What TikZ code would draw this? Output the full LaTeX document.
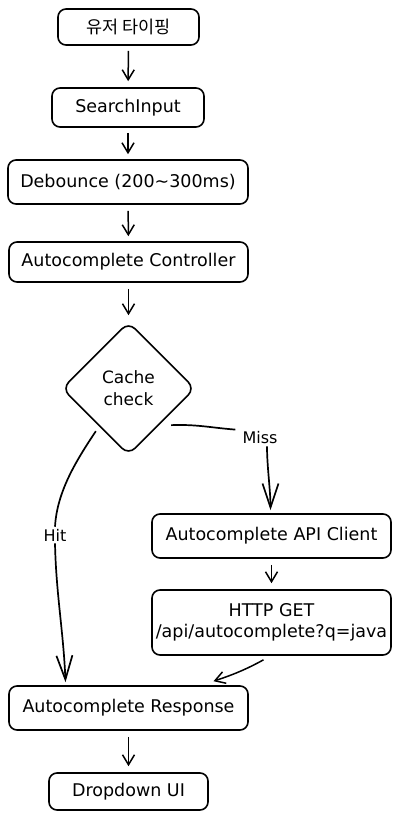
\documentclass[tikz,border=0pt]{standalone}
\usepackage{fontspec}
\setmainfont{DejaVu Sans}
\newfontfamily\krfont{Noto Sans CJK KR}
\usetikzlibrary{shapes.geometric,arrows.meta}
\begin{document}
\begin{tikzpicture}[x=1pt,y=-1pt,
  box/.style={draw, line width=1.6pt, rounded corners=8pt, inner sep=0pt, align=center,
    font=\fontsize{17.5}{21}\selectfont},
  decision/.style={draw, line width=1.6pt, diamond, rounded corners=9pt, inner sep=0pt,
    minimum width=133pt, minimum height=133pt, align=center, font=\fontsize{17}{22}\selectfont},
  lbl/.style={fill=white, inner sep=2pt, font=\fontsize{16}{20}\selectfont},
  arr/.style={line width=1.5pt, -{Straight Barb[length=10pt,width=12pt,line width=1.5pt]}},
  bigarr/.style={line width=1.7pt, -{Straight Barb[length=24pt,width=16pt,line width=1.7pt]}},
  plain/.style={line width=1.7pt}
]
\useasboundingbox (0,0) rectangle (400,819);

\node[box, minimum width=141pt, minimum height=36pt] (kr) at (128.5,27) {\krfont 유저 타이핑};
\node[box, minimum width=152pt, minimum height=39pt] (si) at (128,107.5) {SearchInput};
\node[box, minimum width=240pt, minimum height=44pt] (deb) at (128,182) {Debounce (200\textasciitilde300ms)};
\node[box, minimum width=239pt, minimum height=40pt] (ctl) at (128.5,262) {Autocomplete Controller};
\node[decision] (cache) at (128.5,388.5) {Cache\\check};
\node[box, minimum width=239pt, minimum height=44pt] (api) at (271.5,536) {Autocomplete API Client};
\node[box, minimum width=239pt, minimum height=65pt] (http) at (271.5,622.5) {HTTP GET\\/api/autocomplete?q=java};
\node[box, minimum width=239pt, minimum height=44pt] (resp) at (128.5,708) {Autocomplete Response};
\node[box, minimum width=159pt, minimum height=37pt] (dd) at (128.5,791.5) {Dropdown UI};

\node[lbl] (hit) at (55,535) {Hit};
\node[lbl] (miss) at (260,438) {Miss};

\draw[arr, shorten <=5pt, shorten >=6pt] (kr) -- (si);
\draw[arr, shorten <=5pt, shorten >=5pt] (si) -- (deb);
\draw[arr, shorten <=6pt, shorten >=5pt] (deb) -- (ctl);
\draw[arr, shorten <=6pt, shorten >=6pt] (ctl) -- (cache);

% Hit branch
\draw[plain] ([shift={(1,9)}]cache.south west) .. controls +(-20,30) and +(2,-35) .. (hit.north);
\draw[bigarr] (hit.south) .. controls +(1,50) and +(-2,-50) .. ([shift={(-63,-3)}]resp.north);

% Miss branch
\draw[plain] ([shift={(9,3)}]cache.south east) .. controls +(25,-1) and +(-25,-2) .. ([shift={(-5,0)}]miss.north west);
\draw[bigarr] ([xshift=7pt]miss.south) .. controls +(0,20) and +(0,-20) .. ([shift={(-1,-3)}]api.north);

\draw[arr, shorten <=6pt, shorten >=6pt] (api) -- (http);
\draw[arr] ([shift={(-8,4)}]http.south) .. controls +(-18,10) and +(18,-6) .. ([shift={(85,-4)}]resp.north);
\draw[arr, shorten <=6pt, shorten >=6pt] (resp) -- (dd);
\end{tikzpicture}
\end{document}
